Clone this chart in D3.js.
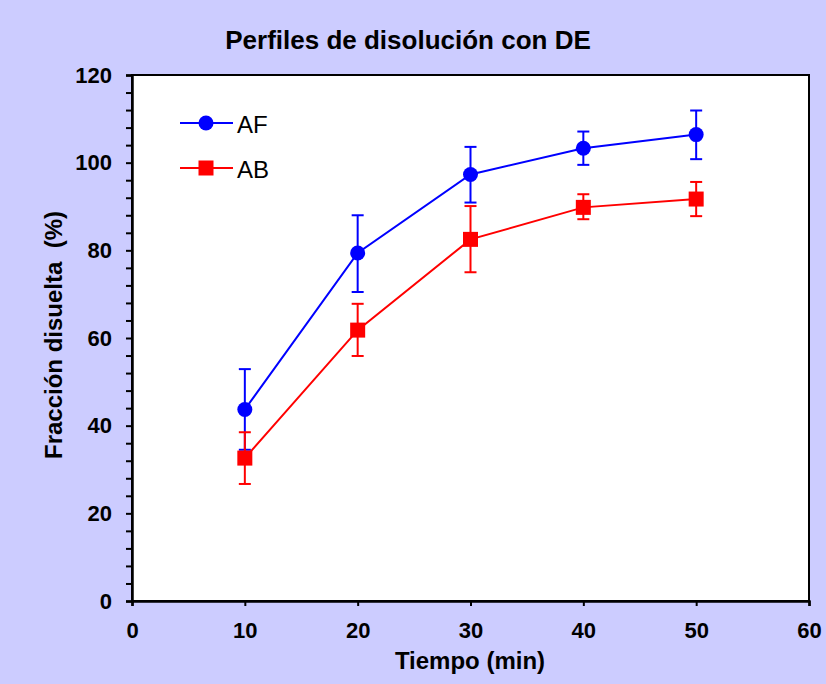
<!DOCTYPE html>
<html>
<head>
<meta charset="utf-8">
<script src="https://cdn.jsdelivr.net/npm/d3@7/dist/d3.min.js"></script>
<style>
  html, body { margin: 0; padding: 0; background: #ccccff; }
  svg { display: block; }
  text { font-family: "Liberation Sans", Arial, sans-serif; }
</style>
</head>
<body>
<svg id="chart" width="826" height="684"></svg>
<script>
// Dissolution profiles: time (min) vs dissolved fraction (%)
const tiempos = [10, 20, 30, 40, 50];
const serieNombres = ["AF", "AB"];
const afMedia = [43.7, 79.4, 97.3, 103.3, 106.4];
const afSup   = [52.9, 88.0, 103.6, 107.1, 111.9];
const afInf   = [34.5, 70.5, 90.9, 99.5, 100.8];
const abMedia = [32.6, 61.8, 82.5, 89.8, 91.7];
const abSup   = [38.5, 67.8, 90.1, 92.8, 95.6];
const abInf   = [26.7, 55.9, 75.0, 87.1, 87.8];
const xTicks = [0, 10, 20, 30, 40, 50, 60];
const yTicks = [0, 20, 40, 60, 80, 100, 120];

const svg = d3.select("#chart");
const W = 826, H = 684;
const m = { left: 132, right: 809, top: 75, bottom: 601 };

svg.append("rect").attr("width", W).attr("height", H).attr("fill", "#ccccff");

const x = d3.scaleLinear().domain([0, 60]).range([m.left, m.right]);
const y = d3.scaleLinear().domain([0, 120]).range([m.bottom, m.top]);

// plot area
svg.append("rect")
  .attr("x", m.left).attr("y", m.top)
  .attr("width", m.right - m.left).attr("height", m.bottom - m.top)
  .attr("fill", "#ffffff").attr("stroke", "#000").attr("stroke-width", 2);

// y axis: majors every 20, minors every 4
const yAxis = d3.axisLeft(y).tickValues(d3.range(0, 121, 4))
  .tickSize(6).tickPadding(14)
  .tickFormat(d => yTicks.includes(d) ? d : "");
const gy = svg.append("g").attr("transform", `translate(${m.left},0)`).call(yAxis);
gy.select(".domain").attr("stroke-width", 2.5);
gy.selectAll(".tick line").attr("stroke-width", 2);
gy.selectAll(".tick text").attr("font-size", 22).attr("font-weight", "bold").attr("fill", "#000");

const xAxis = d3.axisBottom(x).tickValues(xTicks).tickSize(5).tickPadding(16);
const gx = svg.append("g").attr("transform", `translate(0,${m.bottom})`).call(xAxis);
gx.select(".domain").attr("stroke-width", 2.5);
gx.selectAll(".tick line").attr("stroke-width", 2);
gx.selectAll(".tick text").attr("font-size", 22).attr("font-weight", "bold").attr("fill", "#000");

// titles
svg.append("text").attr("x", 408).attr("y", 49).attr("text-anchor", "middle")
  .attr("font-size", 26).attr("font-weight", "bold").text("Perfiles de disolución con DE");
svg.append("text").attr("x", 470).attr("y", 669).attr("text-anchor", "middle")
  .attr("font-size", 24).attr("font-weight", "bold").text("Tiempo (min)");
svg.append("text").attr("transform", "translate(62,335) rotate(-90)").attr("text-anchor", "middle")
  .attr("font-size", 24).attr("font-weight", "bold").style("white-space", "pre")
  .text("Fracción disuelta  (%)");

const series = [
  { name: serieNombres[0], color: "#0000ff", media: afMedia, sup: afSup, inf: afInf, shape: "circle" },
  { name: serieNombres[1], color: "#ff0000", media: abMedia, sup: abSup, inf: abInf, shape: "square" }
];

function marker(g, shape, cx, cy, color) {
  if (shape === "circle") {
    g.append("circle").attr("cx", cx).attr("cy", cy).attr("r", 7.5).attr("fill", color);
  } else {
    g.append("rect").attr("x", cx - 7.5).attr("y", cy - 7.5).attr("width", 15).attr("height", 15).attr("fill", color);
  }
}

const line = d3.line().x(d => x(d[0])).y(d => y(d[1]));

series.forEach(s => {
  const g = svg.append("g");
  const pts = tiempos.map((t, i) => [t, s.media[i]]);
  // error bars
  tiempos.forEach((t, i) => {
    const cx = x(t);
    g.append("line").attr("x1", cx).attr("x2", cx).attr("y1", y(s.sup[i])).attr("y2", y(s.inf[i]))
      .attr("stroke", s.color).attr("stroke-width", 2);
    [s.sup[i], s.inf[i]].forEach(v => {
      g.append("line").attr("x1", cx - 6).attr("x2", cx + 6).attr("y1", y(v)).attr("y2", y(v))
        .attr("stroke", s.color).attr("stroke-width", 2);
    });
  });
  g.append("path").datum(pts).attr("d", line).attr("fill", "none")
    .attr("stroke", s.color).attr("stroke-width", 2);
  pts.forEach(p => marker(g, s.shape, x(p[0]), y(p[1]), s.color));
});

// legend
series.forEach((s, i) => {
  const ly = 123 + i * 45;
  const g = svg.append("g");
  g.append("line").attr("x1", 180).attr("x2", 233).attr("y1", ly).attr("y2", ly)
    .attr("stroke", s.color).attr("stroke-width", 2);
  marker(g, s.shape, 206, ly, s.color);
  g.append("text").attr("x", 237).attr("y", ly + 9.5).attr("font-size", 24).text(s.name);
});
</script>
</body>
</html>
